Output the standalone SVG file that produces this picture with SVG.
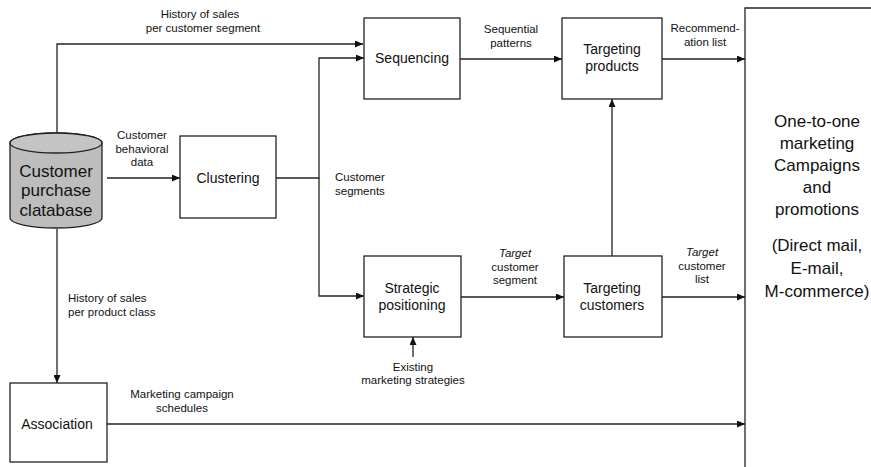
<svg xmlns="http://www.w3.org/2000/svg" width="871" height="467" viewBox="0 0 871 467">
<style>
.box{fill:#fff;stroke:#222;stroke-width:1.3}
.ln{fill:none;stroke:#222;stroke-width:1.3}
.arr{marker-end:url(#ah)}
.lb{font-family:"Liberation Sans",Arial,sans-serif;font-size:11.5px;fill:#111;text-anchor:middle}
.nt{font-family:"Liberation Sans",Arial,sans-serif;font-size:14px;fill:#111;text-anchor:middle}
.db{font-family:"Liberation Sans",Arial,sans-serif;font-size:17px;fill:#111;text-anchor:middle}
.big{font-family:"Liberation Sans",Arial,sans-serif;font-size:17px;fill:#111;text-anchor:middle}
.it{font-style:italic}
</style>
<defs>
<marker id="ah" markerUnits="userSpaceOnUse" markerWidth="8" markerHeight="7" refX="8" refY="3.5" orient="auto">
<path d="M0,0 L8,3.5 L0,7 z" fill="#111"/>
</marker>
</defs>
<rect width="871" height="467" fill="#fff"/>

<g id="connectors">
<path class="ln arr" d="M57,133 V44 H363"/>
<path class="ln arr" d="M107,178 H180"/>
<path class="ln arr" d="M276,178 H319 V58 H364"/>
<path class="ln arr" d="M319,178 V296 H364"/>
<path class="ln arr" d="M460,59 H562"/>
<path class="ln arr" d="M662,59 H745"/>
<path class="ln arr" d="M612,256 V99"/>
<path class="ln arr" d="M461,297 H564"/>
<path class="ln arr" d="M662,297 H745"/>
<path class="ln arr" d="M413,357 V337"/>
<path class="ln arr" d="M57,229 V383"/>
<path class="ln arr" d="M107,424 H745"/>
</g>

<g id="labels">
<text class="lb" x="200" y="18">History of sales</text>
<text class="lb" x="203" y="32">per customer segment</text>
<text class="lb" x="142" y="139">Customer</text>
<text class="lb" x="142" y="153">behavioral</text>
<text class="lb" x="142" y="166">data</text>
<text class="lb" x="335" y="181" style="text-anchor:start">Customer</text>
<text class="lb" x="335" y="195" style="text-anchor:start">segments</text>
<text class="lb" x="511" y="33">Sequential</text>
<text class="lb" x="511" y="47">patterns</text>
<text class="lb" x="705" y="32">Recommend-</text>
<text class="lb" x="705" y="46">ation list</text>
<text class="lb it" x="515" y="257">Target</text>
<text class="lb" x="515" y="271">customer</text>
<text class="lb" x="515" y="284">segment</text>
<text class="lb it" x="702" y="256">Target</text>
<text class="lb" x="702" y="270">customer</text>
<text class="lb" x="702" y="283">list</text>
<text class="lb" x="413" y="371">Existing</text>
<text class="lb" x="413" y="384">marketing strategies</text>
<text class="lb" x="68" y="302" style="text-anchor:start">History of sales</text>
<text class="lb" x="68" y="316" style="text-anchor:start">per product class</text>
<text class="lb" x="182" y="398">Marketing campaign</text>
<text class="lb" x="182" y="412">schedules</text>
</g>

<g id="database">
<path d="M10,143 V218 A46,10 0 0 0 102,218 V143 A46,10 0 0 0 10,143 Z" fill="#bdbdbd" stroke="#222" stroke-width="1.3"/>
<ellipse cx="56" cy="143" rx="46" ry="10" fill="#c4c4c4" stroke="#222" stroke-width="1.3"/>
<text class="db" x="56" y="177">Customer</text>
<text class="db" x="56" y="196">purchase</text>
<text class="db" x="56" y="216">clatabase</text>
</g>

<g id="clustering">
<rect class="box" x="180" y="136" width="96" height="82"/>
<text class="nt" x="228" y="183">Clustering</text>
</g>

<g id="sequencing">
<rect class="box" x="364" y="18" width="96" height="81"/>
<text class="nt" x="412" y="63">Sequencing</text>
</g>

<g id="targeting-products">
<rect class="box" x="562" y="18" width="100" height="81"/>
<text class="nt" x="612" y="54">Targeting</text>
<text class="nt" x="612" y="71">products</text>
</g>

<g id="strategic-positioning">
<rect class="box" x="364" y="256" width="97" height="81"/>
<text class="nt" x="412" y="293">Strategic</text>
<text class="nt" x="412" y="310">positioning</text>
</g>

<g id="targeting-customers">
<rect class="box" x="564" y="256" width="98" height="81"/>
<text class="nt" x="612" y="293">Targeting</text>
<text class="nt" x="612" y="310">customers</text>
</g>

<g id="association">
<rect class="box" x="10" y="383" width="97" height="79"/>
<text class="nt" x="57" y="429">Association</text>
</g>

<g id="campaigns">
<path class="ln" d="M745,467 V8 H871"/>
<text class="big" x="817" y="127">One-to-one</text>
<text class="big" x="817" y="149">marketing</text>
<text class="big" x="817" y="171">Campaigns</text>
<text class="big" x="817" y="193">and</text>
<text class="big" x="817" y="215">promotions</text>
<text class="big" x="817" y="251">(Direct mail,</text>
<text class="big" x="817" y="274">E-mail,</text>
<text class="big" x="817" y="297">M-commerce)</text>
</g>
</svg>
